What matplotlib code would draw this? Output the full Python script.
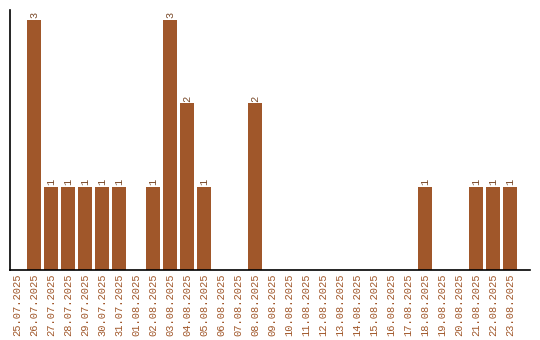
import matplotlib
matplotlib.use("Agg")
import matplotlib.pyplot as plt
import numpy as np

dates = ["25.07.2025", "26.07.2025", "27.07.2025", "28.07.2025", "29.07.2025",
         "30.07.2025", "31.07.2025", "01.08.2025", "02.08.2025", "03.08.2025",
         "04.08.2025", "05.08.2025", "06.08.2025", "07.08.2025", "08.08.2025",
         "09.08.2025", "10.08.2025", "11.08.2025", "12.08.2025", "13.08.2025",
         "14.08.2025", "15.08.2025", "16.08.2025", "17.08.2025", "18.08.2025",
         "19.08.2025", "20.08.2025", "21.08.2025", "22.08.2025", "23.08.2025"]
counts = [0, 3, 1, 1, 1, 1, 1, 0, 1, 3, 2, 1, 0, 0, 2,
          0, 0, 0, 0, 0, 0, 0, 0, 0, 1, 0, 0, 1, 1, 1]

bar_color = "#A0572A"
text_color = "#A0572A"

fig = plt.figure(figsize=(5.4, 3.4), dpi=100)
ax = fig.add_axes([10/540, 70/340, 520/540, 260/340])

x = np.arange(len(dates))
bars = ax.bar(x, counts, width=0.82, color=bar_color)

# value labels above the bars
for xi, c in zip(x, counts):
    if c > 0:
        ax.text(xi, c + 0.02, str(c), rotation=90, ha="center", va="bottom",
                fontsize=7.5, family="Liberation Mono", color="#7a4a2a")

ax.set_xlim(-0.41, 30.18)
ax.set_ylim(0, 3.12)
ax.set_xticks(x)
ax.set_xticklabels(dates, rotation=90, fontsize=7.5, family="Liberation Mono",
                   color=text_color)
ax.tick_params(axis="x", length=0, pad=2.5)
ax.set_yticks([])
for s in ["top", "right"]:
    ax.spines[s].set_visible(False)
ax.spines["left"].set_linewidth(1.2)
ax.spines["bottom"].set_linewidth(1.2)

plt.savefig("out.png", dpi=100)
plt.close()
